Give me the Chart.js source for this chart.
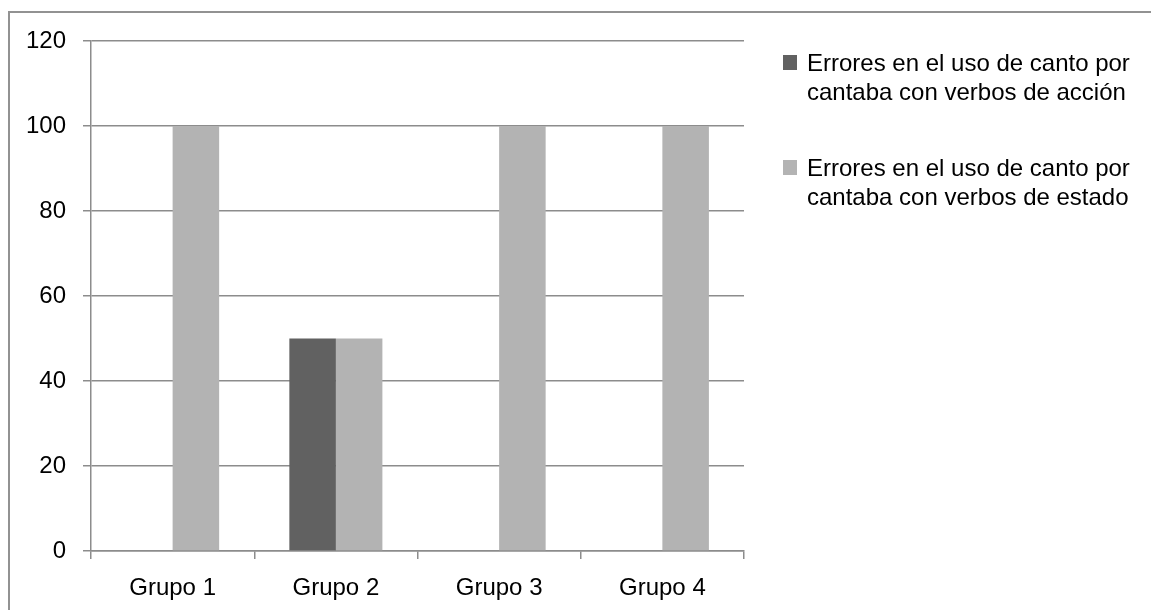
<!DOCTYPE html>
<html>
<head>
<meta charset="utf-8">
<script src="https://cdn.jsdelivr.net/npm/chart.js@4.4.0/dist/chart.umd.min.js"></script>
<style>
  html, body { margin: 0; padding: 0; background: #fff; overflow: hidden; }
  #wrap { position: relative; width: 1151px; height: 610px; }
  #frame { position: absolute; left: 8px; top: 11px; width: 1200px; height: 700px; border: 2px solid #929292; box-sizing: border-box; }
  canvas { position: absolute; left: 0; top: 0; }
</style>
</head>
<body>
<div id="wrap">
  <div id="frame"></div>
  <canvas id="myChart" width="1151" height="610"></canvas>
</div>
<script>
const categories = ['Grupo 1', 'Grupo 2', 'Grupo 3', 'Grupo 4'];
const accionValues = [0, 50, 0, 0];
const estadoValues = [100, 50, 100, 100];
const seriesNames = [
  ['Errores en el uso de canto por', 'cantaba con verbos de acción'],
  ['Errores en el uso de canto por', 'cantaba con verbos de estado']
];
const yTicks = [0, 20, 40, 60, 80, 100, 120];

const FONT = "'Liberation Sans', Arial, sans-serif";
const gridColor = '#8c8c8c';

// legend drawn by hand so the two-line labels sit like the original
const sideLegend = {
  id: 'sideLegend',
  afterDraw(chart) {
    const ctx = chart.ctx;
    ctx.save();
    ctx.font = '24px ' + FONT;
    ctx.textBaseline = 'alphabetic';
    chart.data.datasets.forEach((ds, i) => {
      const top = 55 + i * 105;
      ctx.fillStyle = ds.backgroundColor;
      ctx.fillRect(783, top, 14, 15);
      ctx.fillStyle = '#000';
      ds.label.forEach((line, j) => {
        ctx.fillText(line, 807, top + 16 + j * 29);
      });
    });
    ctx.restore();
  }
};

const ctx = document.getElementById('myChart').getContext('2d');
const myChart = new Chart(ctx, {
  type: 'bar',
  data: {
    labels: categories,
    datasets: [{
      label: seriesNames[0],
      data: accionValues,
      backgroundColor: '#616161',
      barPercentage: 1,
      categoryPercentage: 0.57
    }, {
      label: seriesNames[1],
      data: estadoValues,
      backgroundColor: '#b3b3b3',
      barPercentage: 1,
      categoryPercentage: 0.57
    }]
  },
  options: {
    responsive: false,
    animation: false,
    layout: { padding: { top: 41, right: 407, left: 0, bottom: 0 } },
    plugins: {
      legend: { display: false },
      tooltip: { enabled: false }
    },
    scales: {
      x: {
        offset: true,
        grid: { display: true, drawOnChartArea: false, drawTicks: true, tickLength: 8, color: gridColor, lineWidth: 1.5, offset: true },
        border: { display: true, color: gridColor, width: 1.5 },
        ticks: { color: '#000', font: { family: FONT, size: 24 }, padding: 15, maxRotation: 0 },
        afterFit: (scale) => { scale.height = 59; }
      },
      y: {
        min: 0,
        max: 120,
        afterBuildTicks: (scale) => { scale.ticks = yTicks.map(v => ({ value: v })); },
        grid: { color: gridColor, lineWidth: 1.5, tickLength: 8 },
        border: { display: true, color: gridColor, width: 1.5 },
        ticks: { color: '#000', font: { family: FONT, size: 24 }, padding: 17 },
        afterFit: (scale) => { scale.width = 91; }
      }
    }
  },
  plugins: [sideLegend]
});
</script>
</body>
</html>
